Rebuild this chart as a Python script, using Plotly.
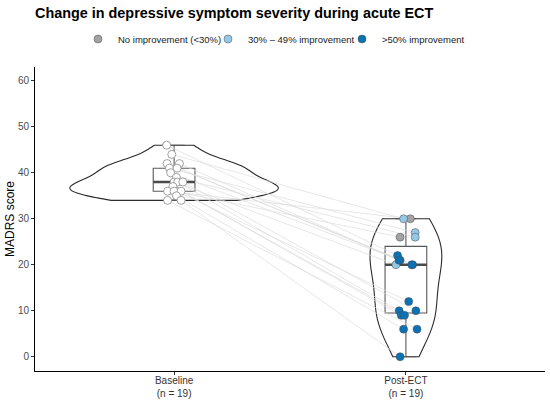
import numpy as np
import plotly.graph_objects as go

# ---------------- data ----------------
categories = ["Baseline<br>(n = 19)", "Post-ECT<br>(n = 19)"]
baseline = [46, 44, 42, 42, 41, 41, 40, 36, 39, 38, 38, 38, 37, 36, 36, 36, 35, 34, 34]
post_ect = [22, 30, 21, 21, 27, 20, 20, 12, 26, 20, 10, 10, 9, 30, 26, 9, 6, 6, 0]
group = ["dark", "light", "dark", "dark", "light", "dark", "dark", "dark", "light", "light",
         "dark", "dark", "dark", "grey", "grey", "dark", "dark", "dark", "dark"]
group_labels = {"grey": "No improvement (<30%)",
                "light": "30% \u2013 49% improvement",
                "dark": ">50% improvement"}
y_ticks = [0, 10, 20, 30, 40, 50, 60]

# horizontal jitter of each point as seen in the picture (category units)
jitter_base = [-0.032, -0.010, -0.030, 0.023, -0.020, 0.013, -0.015, 0.010, 0.010, 0.000,
               0.016, 0.038, -0.005, -0.028, 0.000, 0.030, 0.010, -0.028, 0.030]
jitter_post = [-0.036, -0.010, -0.025, -0.030, 0.040, 0.029, 0.025, 0.012, 0.040, -0.043,
               -0.029, 0.043, -0.020, 0.019, -0.025, -0.006, -0.010, 0.048, -0.025]

# ---------------- styles ----------------
FILL = {"grey": "#a3a3a3", "light": "#93c8e6", "dark": "#0b72b6"}
FONT = "Liberation Sans, Arial, sans-serif"
POS = [1, 2]
VIOLIN_WIDTH = [0.9, 0.31]
BW_ADJUST = [1.0, 1.35]
BOXW = 0.18


def nrd0(v):
    v = np.asarray(v, float)
    sd = v.std(ddof=1)
    iqr = np.percentile(v, 75) - np.percentile(v, 25)
    return 0.9 * min(sd, iqr / 1.34) * len(v) ** -0.2


series = [baseline, post_ect]

fig = go.Figure()

# connecting lines
lx, ly = [], []
for b, p, jb, jp in zip(baseline, post_ect, jitter_base, jitter_post):
    lx += [POS[0] + jb, POS[1] + jp, None]
    ly += [b, p, None]
fig.add_trace(go.Scatter(x=lx, y=ly, mode="lines", line=dict(color="#dcdcdc", width=0.7),
                         hoverinfo="skip", showlegend=False))

# violins
for pos, s, adj, w in zip(POS, series, BW_ADJUST, VIOLIN_WIDTH):
    fig.add_trace(go.Violin(x=[pos] * len(s), y=s, bandwidth=nrd0(s) * adj, spanmode="hard", width=w,
                            line=dict(color="#2b2b2b", width=1.1), fillcolor="rgba(0,0,0,0)",
                            points=False, box_visible=False, meanline_visible=False,
                            hoverinfo="skip", showlegend=False))

# boxes
for pos, s in zip(POS, series):
    a = np.asarray(s, float)
    q1, med, q3 = np.percentile(a, [25, 50, 75])
    iqr = q3 - q1
    lo = a[a >= q1 - 1.5 * iqr].min()
    hi = a[a <= q3 + 1.5 * iqr].max()
    fig.add_trace(go.Box(x=[pos], q1=[q1], median=[med], q3=[q3], lowerfence=[lo], upperfence=[hi],
                         width=BOXW, line=dict(color="#595959", width=1.1),
                         fillcolor="rgba(0,0,0,0)", hoverinfo="skip", showlegend=False))
    fig.add_trace(go.Scatter(x=[pos - BOXW / 2, pos + BOXW / 2], y=[med, med], mode="lines",
                             line=dict(color="#4a4a4a", width=2.4), hoverinfo="skip", showlegend=False))

# baseline points
fig.add_trace(go.Scatter(x=[POS[0] + j for j in jitter_base], y=baseline, mode="markers",
                         marker=dict(size=8, color="white", line=dict(color="#8c8c8c", width=0.8)),
                         hoverinfo="skip", showlegend=False))

# post points by group (legend)
legends = {"grey": "legend", "light": "legend2", "dark": "legend3"}
for g in ["grey", "light", "dark"]:
    idx = [i for i, gg in enumerate(group) if gg == g]
    fig.add_trace(go.Scatter(x=[POS[1] + jitter_post[i] for i in idx], y=[post_ect[i] for i in idx],
                             mode="markers", name=group_labels[g], legend=legends[g],
                             marker=dict(size=8, color=FILL[g], line=dict(color="#4d4d4d", width=0.5)),
                             hoverinfo="skip"))

leg_common = dict(orientation="h", xref="container", yref="container", yanchor="middle",
                  y=1 - 39 / 402, font=dict(family=FONT, size=9.5, color="#1a1a1a"),
                  bgcolor="rgba(0,0,0,0)", itemwidth=30)

fig.update_layout(
    width=550, height=402,
    margin=dict(l=35, r=5, t=67, b=31, autoexpand=False),
    paper_bgcolor="white", plot_bgcolor="white",
    violinmode="overlay", boxmode="overlay",
    title=dict(text="<b>Change in depressive symptom severity during acute ECT</b>",
               x=35 / 550, xanchor="left", xref="container",
               y=1 - 13 / 402, yanchor="middle", yref="container",
               font=dict(family=FONT, size=14.4, color="#000000")),
    legend=dict(x=(98 - 20) / 550, xanchor="left", **leg_common),
    legend2=dict(x=(228 - 20) / 550, xanchor="left", **leg_common),
    legend3=dict(x=(362 - 20) / 550, xanchor="left", **leg_common),
    xaxis=dict(range=[0.4, 2.6], tickvals=POS, ticktext=categories, showgrid=False, zeroline=False,
               showline=True, linecolor="#000000", linewidth=1, ticks="outside", ticklen=3,
               tickcolor="#333333", tickfont=dict(family=FONT, size=10, color="#333333"),
               automargin=False, ticklabelstandoff=-3),
    yaxis=dict(range=[-3.1, 63], tickvals=y_ticks, showgrid=False, zeroline=False,
               showline=True, linecolor="#000000", linewidth=1, ticks="outside", ticklen=3,
               tickcolor="#333333", tickfont=dict(family=FONT, size=10, color="#4d4d4d"),
               automargin=False,
               title=dict(text="MADRS score", font=dict(family=FONT, size=12, color="#000000"),
                          standoff=0)),
)

fig.write_html("out.html", config={"displayModeBar": False},
               post_script="document.body.style.margin='0';document.body.style.overflow='hidden';")
